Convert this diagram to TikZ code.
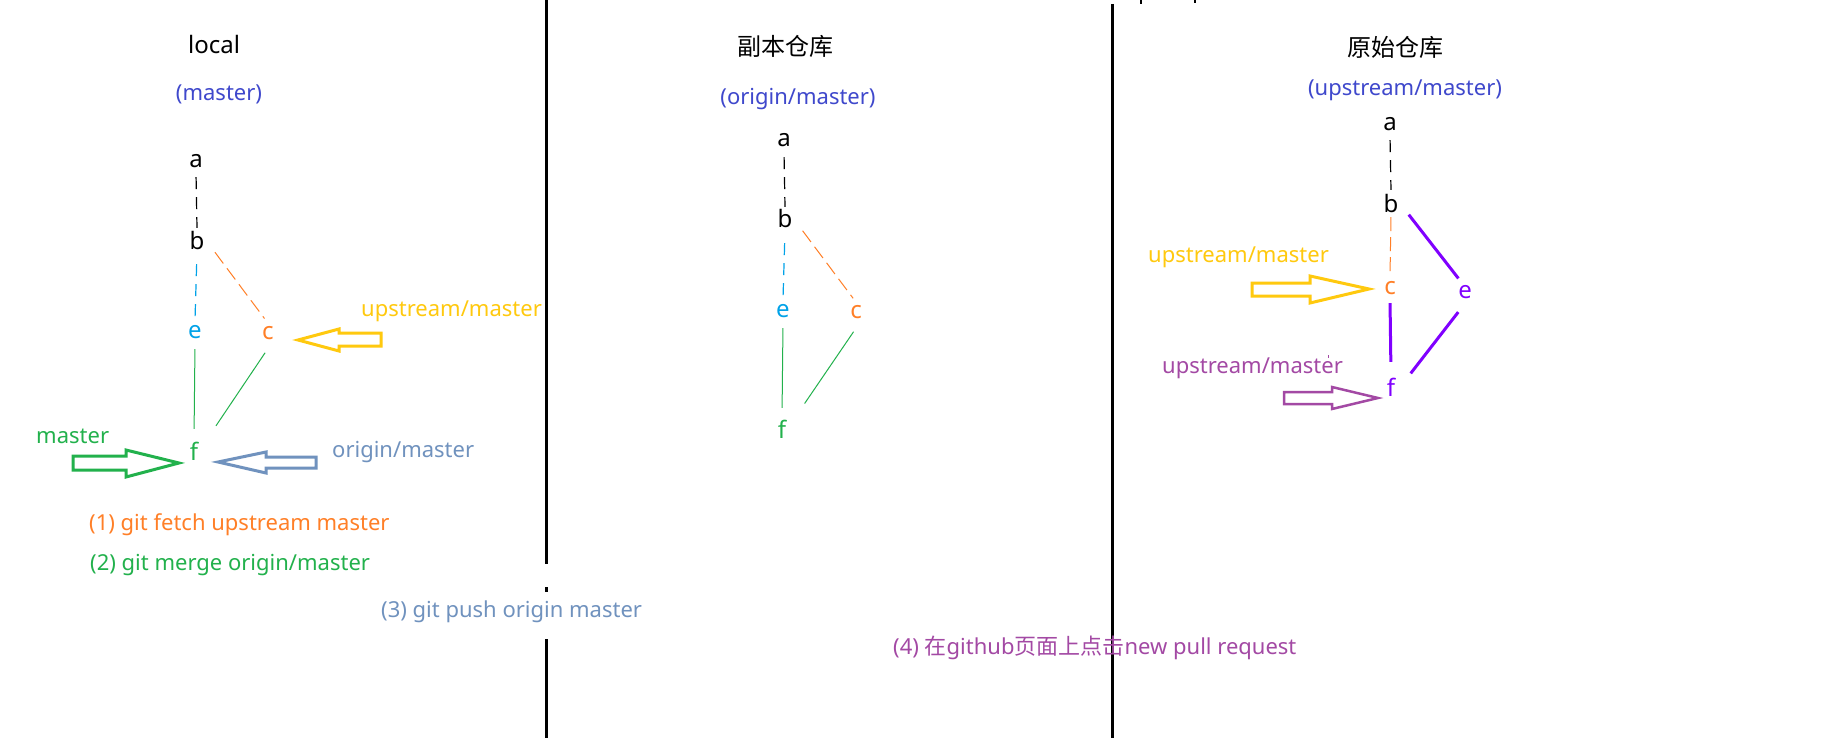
\documentclass[tikz,border=0pt]{standalone}
\usepackage{fontspec}
\setmainfont{Noto Sans}
\newfontfamily\cjk{Noto Sans CJK SC}
\definecolor{tblue}{RGB}{63,72,204}
\definecolor{yel}{RGB}{255,201,14}
\definecolor{orng}{RGB}{255,127,39}
\definecolor{cyn}{RGB}{0,162,232}
\definecolor{grn}{RGB}{34,177,76}
\definecolor{steel}{RGB}{112,146,190}
\definecolor{vio}{RGB}{128,0,255}
\definecolor{mag}{RGB}{163,73,164}
\begin{document}
\begin{tikzpicture}[x=1pt,y=-1pt,
  lbl/.style={font=\fontsize{22}{26}\selectfont, inner sep=0pt},
  ttl/.style={font=\fontsize{24}{28}\selectfont, inner sep=0pt},
  cmt/.style={circle, minimum size=24pt, inner sep=0pt, font=\fontsize{24}{28}\selectfont},
  thinline/.style={line width=1pt},
  dsh/.style={line width=1.2pt, dash pattern=on 12pt off 8pt},
  odsh/.style={line width=1pt, orng, dash pattern=on 14pt off 6pt},
  vline/.style={line width=3pt, vio},
  sepline/.style={line width=3pt, black},
  blk/.style={line width=3pt, line join=miter}
]
\useasboundingbox (0,0) rectangle (1844,738);
\fill[white] (0,0) rectangle (1844,738);

% separators
\draw[sepline] (546,0) -- (546,564);
\draw[sepline] (546,587) -- (546,592);
\draw[sepline] (546,639) -- (546,738);
\draw[sepline] (1112,4) -- (1112,738);
\draw[line width=2.5pt] (1141,0) -- (1141,4);
\draw[line width=2.5pt] (1195,0) -- (1195,3);

% titles
\node[ttl] (t1) at (214,45) {local};
\node[ttl] (t2) at (785,46) {\cjk 副本仓库};
\node[ttl] (t3) at (1395,47) {\cjk 原始仓库};
\node[lbl, text=tblue] (s1) at (219,94) {(master)};
\node[lbl, text=tblue] (s2) at (798,99) {(origin/master)};
\node[lbl, text=tblue] (s3) at (1405,90) {(upstream/master)};

% left commits
\node[cmt] (La) at (196,161) {a};
\node[cmt] (Lb) at (197,240) {b};
\node[cmt, text=cyn] (Le) at (195,332) {e};
\node[cmt, text=orng] (Lc) at (268,333) {c};
\node[cmt, text=grn] (Lf) at (194,451) {f};
\draw[dsh, shorten <=4pt] (La.south) -- (Lb.north);
\draw[dsh, cyn, shorten <=12pt] (Lb.south) -- (Le.north);
\draw[odsh, shorten <=10.6pt, shorten >=3pt] (Lb.-18) -- (Lc.98);
\draw[thinline, grn, shorten <=5pt, shorten >=10pt] (Le.south) -- (Lf.north);
\draw[thinline, grn, shorten <=9.4pt, shorten >=21.6pt] (Lc.-79) -- (Lf.36.5);

% middle commits
\node[cmt] (Ma) at (784,140) {a};
\node[cmt] (Mb) at (785,219) {b};
\node[cmt, text=cyn] (Me) at (783,311) {e};
\node[cmt, text=orng] (Mc) at (856,312) {c};
\node[cmt, text=grn] (Mf) at (782,429) {f};
\draw[dsh, shorten <=5pt] (Ma.south) -- (Mb.north);
\draw[dsh, cyn, shorten <=12pt] (Mb.south) -- (Me.north);
\draw[odsh, shorten <=10pt, shorten >=2pt] (Mb.-18) -- (Mc.98);
\draw[thinline, grn, shorten <=5pt, shorten >=9pt] (Me.south) -- (Mf.north);
\draw[thinline, grn, shorten <=9.6pt, shorten >=22.4pt] (Mc.-76) -- (Mf.35.5);

% right commits
\node[cmt] (Ra) at (1390,124) {a};
\node[cmt] (Rb) at (1391,203) {b};
\node[cmt, text=orng] (Rc) at (1390,288) {c};
\node[cmt, text=vio] (Re) at (1465,292) {e};
\node[cmt, text=vio] (Rf) at (1391,387) {f};
\draw[dsh, shorten <=4pt, shorten >=1pt] (Ra.south) -- (Rb.north);
\draw[odsh, shorten <=2pt] (Rb.south) -- (Rc.north);
\draw[vline, shorten <=10pt, shorten >=3pt] (Rb.-18) -- (Re.113);
\draw[vline, shorten <=3pt, shorten >=13pt] (Rc.south) -- (Rf.north);
\draw[vline, shorten <=10pt, shorten >=13pt] (Re.-93) -- (Rf.16);

% labels
\node[lbl, text=yel, anchor=west] (uL) at (361,311) {upstream/master};
\node[lbl, text=grn, anchor=west] (mL) at (36,436) {master};
\node[lbl, text=steel, anchor=west] (oL) at (332,452) {origin/master};
\node[lbl, text=orng, anchor=west] (st1) at (89,525) {(1) git fetch upstream master};
\node[lbl, text=grn, anchor=west] (st2) at (90,565) {(2) git merge origin/master};
\node[lbl, text=steel, anchor=west] (st3) at (381,612) {(3) git push origin master};
\node[lbl, text=mag, anchor=west] (st4) at (893,648) {(4) {\cjk 在}github{\cjk 页面上点击}new pull request};
\node[lbl, text=yel, anchor=west] (uR) at (1148,257) {upstream/master};
\node[lbl, text=mag, anchor=west] (pR) at (1162,368) {upstream/master};
\draw[mag, line width=1pt] (1328,355) -- (1328,358);

% block arrows
\draw[blk, yel] (298,340) -- (339,329) -- (339,333) -- (381,333) -- (381,346) -- (339,346) -- (339,351) -- cycle;
\draw[blk, grn] (179,463) -- (126,450) -- (126,456) -- (73,456) -- (73,470) -- (126,470) -- (126,477) -- cycle;
\draw[blk, steel] (218,462) -- (266,452) -- (266,457) -- (316,457) -- (316,468) -- (266,468) -- (266,473) -- cycle;
\draw[blk, yel] (1369,289) -- (1310,276) -- (1310,283) -- (1252,283) -- (1252,296) -- (1310,296) -- (1310,303) -- cycle;
\draw[blk, mag, line width=2.5pt] (1378,398) -- (1332,387) -- (1332,392) -- (1284,392) -- (1284,404) -- (1332,404) -- (1332,409) -- cycle;
\end{tikzpicture}
\end{document}
